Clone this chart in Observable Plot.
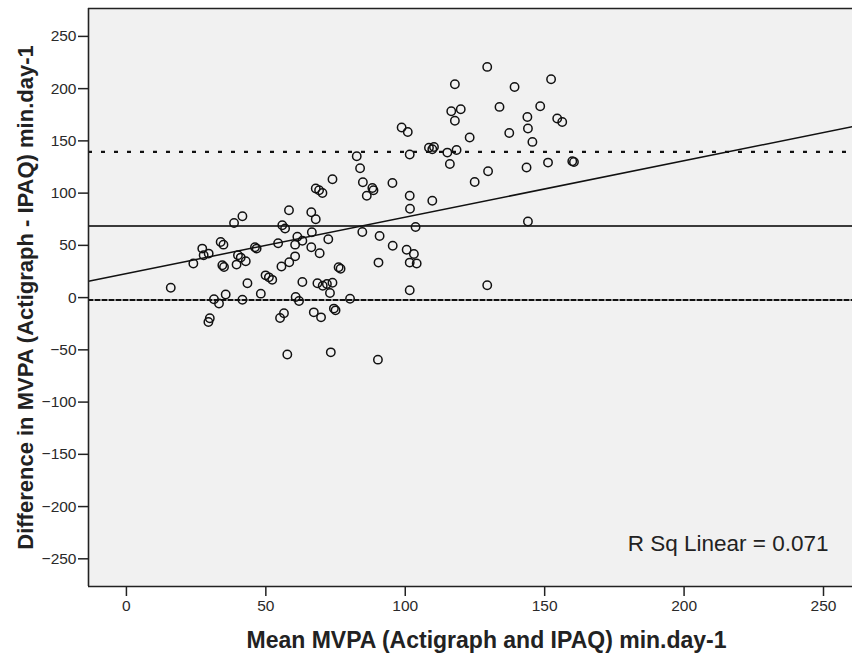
<!DOCTYPE html>
<html>
<head>
<meta charset="utf-8">
<script src="https://cdn.jsdelivr.net/npm/d3@7"></script>
<script src="https://cdn.jsdelivr.net/npm/@observablehq/plot@0.6"></script>
<style>
  html, body { margin: 0; padding: 0; background: #ffffff; }
  #chart { width: 852px; height: 659px; overflow: hidden; }
</style>
</head>
<body>
<div id="chart"></div>
<script>
// Bland–Altman data
const meanMVPA = [
  15.9, 24.0, 27.2, 27.7, 29.5, 29.9, 29.4, 31.4, 33.2, 33.8, 34.8, 34.4, 35.0, 35.6, 38.6, 41.6, 39.5, 40.0, 41.0, 42.8, 41.6, 43.4,
  46.1, 46.7, 48.2, 49.9, 51.1, 52.3, 54.4, 55.6, 55.9, 56.9, 56.5, 55.1, 57.7, 58.3, 58.4, 60.5, 60.5, 61.3, 60.7, 61.9, 63.1, 63.1,
  66.3, 67.9, 66.5, 66.3, 67.9, 69.1, 70.3, 67.2, 68.5, 69.3, 69.8, 70.4, 71.9, 72.4, 73.9, 73.0, 73.3, 73.9, 74.4, 75.0, 76.1, 76.8, 80.2,
  82.6, 83.8, 84.8, 84.6, 86.2, 88.2, 88.6, 90.4, 90.2, 90.8, 95.4, 95.5, 98.7, 100.9, 101.6, 101.6, 101.7, 100.5, 103.1, 101.6, 104.1,
  101.6, 103.7, 108.5, 109.7, 110.3, 109.7, 115.1, 118.4, 116.0, 116.5, 119.9, 117.8, 117.8, 123.1, 124.9, 129.4, 129.7, 129.4,
  133.8, 137.3, 139.2, 143.8, 144.0, 145.6, 143.5, 144.0, 148.4, 151.2, 152.3, 154.5, 156.3, 159.9, 160.5
];
const diffMVPA = [
  9.4, 32.6, 46.9, 40.5, 42.1, -19.8, -23.4, -1.6, -5.7, 53.2, 50.7, 30.9, 29.3, 2.9, 71.4, 77.8, 31.6, 40.5, 38.3, 34.8, -2.1, 13.7,
  48.2, 46.9, 3.8, 21.3, 19.4, 17.0, 52.0, 29.7, 69.2, 66.1, -15.0, -19.5, -54.5, 83.6, 33.8, 50.7, 39.5, 58.2, 0.6, -3.3, 14.9, 54.4,
  81.7, 75.0, 62.5, 48.2, 104.4, 102.7, 100.1, -14.1, 13.7, 42.4, -18.9, 11.3, 13.0, 55.8, 14.2, 4.4, -52.4, 113.3, -10.5, -12.2, 29.0, 27.6, -1.1,
  135.3, 123.8, 110.4, 62.8, 97.5, 104.9, 102.7, 33.5, -59.4, 59.0, 109.7, 49.6, 162.8, 158.5, 136.9, 97.5, 85.0, 45.8, 41.7, 33.5, 32.6,
  7.0, 67.6, 143.4, 142.0, 144.2, 92.7, 138.8, 141.3, 127.9, 178.4, 180.3, 169.3, 204.2, 153.2, 110.7, 220.8, 120.9, 11.8,
  182.5, 157.6, 201.6, 172.9, 161.8, 149.0, 124.5, 72.8, 183.2, 129.2, 209.0, 171.4, 168.1, 130.5, 129.8
];

// Reference lines
const meanDifference = 68.5;
const upperLimit = 139.4;
const lowerLimit = -2.2;
const regIntercept = 23.0;
const regSlope = 0.54;
const rSquaredLabel = "R Sq Linear = 0.071";

// Axes
const xTicks = [0, 50, 100, 150, 200, 250];
const yTicks = [250, 200, 150, 100, 50, 0, -50, -100, -150, -200, -250];
const xDomain = [-13.6, 260.4];
const yDomain = [-276.5, 276.7];
const xTitle = "Mean MVPA (Actigraph and IPAQ) min.day-1";
const yTitle = "Difference in MVPA (Actigraph - IPAQ) min.day-1";

const points = meanMVPA.map((m, i) => ({mean: m, diff: diffMVPA[i]}));
const regLine = xDomain.map(x => ({x, y: regIntercept + regSlope * x}));

const font = "Arial, 'Liberation Sans', sans-serif";

const chart = Plot.plot({
  width: 852,
  height: 659,
  marginLeft: 88,
  marginRight: 0,
  marginTop: 8,
  marginBottom: 73,
  style: {fontFamily: font, background: "#ffffff", overflow: "visible"},
  x: {domain: xDomain, ticks: xTicks},
  y: {domain: yDomain, ticks: yTicks},
  marks: [
    Plot.frame({fill: "#f1f1f1", stroke: null}),
    Plot.axisX(xTicks, {tickSize: 10, tickPadding: 3, fontSize: 15.5, fill: "#2a2a2a", stroke: "#222", strokeWidth: 1.5, label: null}),
    Plot.axisY(yTicks, {tickSize: 10, tickPadding: 2, fontSize: 15.5, fill: "#2a2a2a", stroke: "#222", strokeWidth: 1.5, label: null}),
    // lower limit: gray line with dark dashes
    Plot.ruleY([lowerLimit], {stroke: "#8a8a8a", strokeWidth: 2}),
    Plot.ruleY([lowerLimit], {stroke: "#111", strokeWidth: 2, strokeDasharray: "5,2"}),
    // mean difference
    Plot.ruleY([meanDifference], {stroke: "#3a3a3a", strokeWidth: 2}),
    // upper limit dotted
    Plot.ruleY([upperLimit], {stroke: "#111", strokeWidth: 2.2, strokeDasharray: "4,9"}),
    // regression fit line
    Plot.line(regLine, {x: "x", y: "y", stroke: "#111", strokeWidth: 1.5, clip: true}),
    Plot.dot(points, {x: "mean", y: "diff", r: 4.2, stroke: "#111", strokeWidth: 1.5, fill: "none"}),
    // frame edges (left, top, bottom)
    Plot.ruleX([xDomain[0]], {stroke: "#222", strokeWidth: 1.6}),
    Plot.ruleY([yDomain[1]], {stroke: "#222", strokeWidth: 1.6}),
    Plot.ruleY([yDomain[0]], {stroke: "#222", strokeWidth: 1.6}),
    Plot.text([rSquaredLabel], {frameAnchor: "bottom-right", textAnchor: "end", lineAnchor: "middle", dx: -24, dy: -43, fontSize: 22.5, fill: "#222"}),
    Plot.text([xTitle], {frameAnchor: "bottom", lineAnchor: "middle", dx: 16, dy: 54, fontSize: 23, fontWeight: "bold", fill: "#222"}),
    Plot.text([yTitle], {frameAnchor: "left", lineAnchor: "middle", textAnchor: "middle", rotate: -90, dx: -63, fontSize: 22, fontWeight: "bold", fill: "#222"})
  ]
});
document.getElementById("chart").appendChild(chart);
</script>
</body>
</html>
